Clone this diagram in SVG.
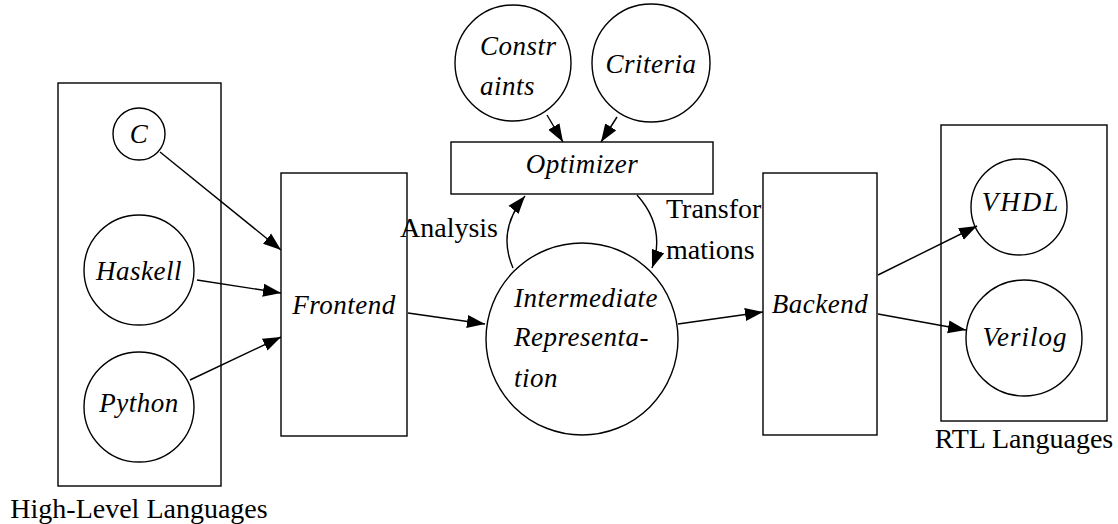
<svg xmlns="http://www.w3.org/2000/svg" width="1118" height="524" viewBox="0 0 1118 524">
  <style>
    .outline { fill: none; stroke: #000; stroke-width: 1.4; }
    .link { fill: none; stroke: #000; stroke-width: 1.4; }
    .it { font-family: "Liberation Serif", serif; font-style: italic; font-size: 27px; fill: #000; letter-spacing: 0.5px; }
    .rm { font-family: "Liberation Serif", serif; font-size: 28px; fill: #000; }
    .mid { text-anchor: middle; }
  </style>
  <defs>
    <marker id="head" markerUnits="userSpaceOnUse" markerWidth="19" markerHeight="14" refX="18" refY="7" orient="auto">
      <path d="M0,0.5 L18,7 L0,13.5 Z" fill="#000"/>
    </marker>
  </defs>
  <rect width="1118" height="524" fill="#fff"/>

  <!-- source language cluster -->
  <g id="cluster-high-level">
    <rect class="outline" x="58" y="83" width="163" height="403"/>
    <text class="rm mid" x="139" y="518">High-Level Languages</text>
  </g>
  <g id="n-c">
    <circle class="outline" cx="139" cy="134" r="26"/>
    <text class="it mid" x="139" y="143">C</text>
  </g>
  <g id="n-haskell">
    <circle class="outline" cx="139" cy="270" r="55"/>
    <text class="it mid" x="139" y="280">Haskell</text>
  </g>
  <g id="n-python">
    <circle class="outline" cx="139" cy="407" r="55"/>
    <text class="it mid" x="139" y="412">Python</text>
  </g>

  <!-- pipeline -->
  <g id="n-frontend">
    <rect class="outline" x="281" y="173" width="126" height="263"/>
    <text class="it mid" x="344" y="314">Frontend</text>
  </g>
  <g id="n-ir">
    <circle class="outline" cx="582" cy="339" r="96"/>
    <text class="it" x="514" y="307">Intermediate</text>
    <text class="it" x="514" y="346">Representa-</text>
    <text class="it" x="514" y="387">tion</text>
  </g>
  <g id="n-optimizer">
    <rect class="outline" x="451" y="142" width="262" height="52"/>
    <text class="it mid" x="582" y="173">Optimizer</text>
  </g>
  <g id="n-constraints">
    <circle class="outline" cx="513" cy="63" r="58"/>
    <text class="it" x="480" y="55">Constr</text>
    <text class="it" x="480" y="95">aints</text>
  </g>
  <g id="n-criteria">
    <circle class="outline" cx="651" cy="63" r="59"/>
    <text class="it mid" x="651" y="73">Criteria</text>
  </g>
  <g id="n-backend">
    <rect class="outline" x="763" y="173" width="114" height="262"/>
    <text class="it mid" x="820" y="313">Backend</text>
  </g>

  <!-- target language cluster -->
  <g id="cluster-rtl">
    <rect class="outline" x="941" y="125" width="166" height="296"/>
    <text class="rm mid" x="1024" y="448">RTL Languages</text>
  </g>
  <g id="n-vhdl">
    <circle class="outline" cx="1019" cy="207" r="48"/>
    <text class="it mid" x="1021" y="211" style="letter-spacing:2px">VHDL</text>
  </g>
  <g id="n-verilog">
    <circle class="outline" cx="1024" cy="338" r="58"/>
    <text class="it mid" x="1025" y="346" style="letter-spacing:1px">Verilog</text>
  </g>

  <!-- connectors -->
  <g id="connectors">
    <path class="link" marker-end="url(#head)" d="M160,152 L281,250"/>
    <path class="link" marker-end="url(#head)" d="M197,280 L281,293"/>
    <path class="link" marker-end="url(#head)" d="M190,380 L281,337"/>
    <path class="link" marker-end="url(#head)" d="M408,313 L485,324"/>
    <path class="link" marker-end="url(#head)" d="M678,324 L763,312"/>
    <path class="link" marker-end="url(#head)" d="M878,275 L977,226"/>
    <path class="link" marker-end="url(#head)" d="M878,314 L966,330"/>
    <path class="link" marker-end="url(#head)" d="M547,115 L563,142"/>
    <path class="link" marker-end="url(#head)" d="M617,117 L601,142"/>
    <path class="link" marker-end="url(#head)" d="M513,268 C503,245 505,220 525,196"/>
    <path class="link" marker-end="url(#head)" d="M637,195 C655,215 662,240 652,268"/>
    <text class="rm" x="498" y="237" text-anchor="end">Analysis</text>
    <text class="rm" x="666" y="218">Transfor</text>
    <text class="rm" x="666" y="259">mations</text>
  </g>
</svg>
